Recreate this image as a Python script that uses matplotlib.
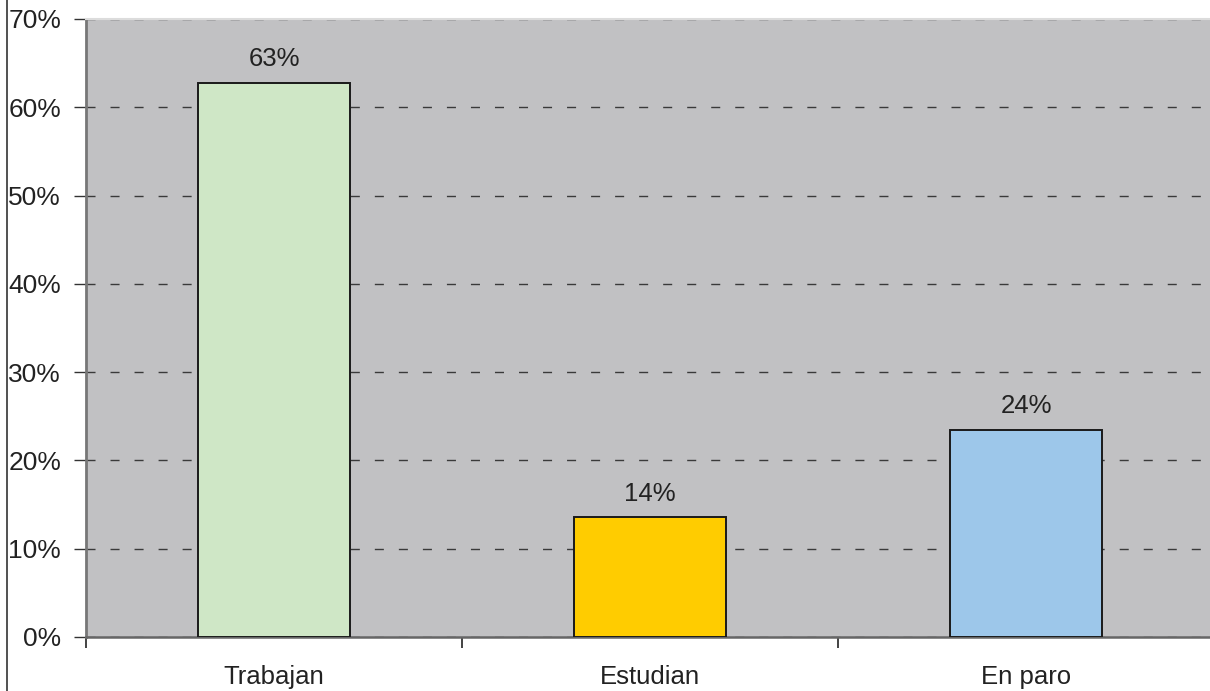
import matplotlib

matplotlib.use("Agg")
import matplotlib.pyplot as plt
from matplotlib.lines import Line2D
from matplotlib.ticker import FuncFormatter, MultipleLocator

categories = ["Trabajan", "Estudian", "En paro"]
shares = [62.8, 13.6, 23.5]
share_labels = ["63%", "14%", "24%"]
bar_colors = ["#CFE7C6", "#FFCC00", "#9DC7EA"]

plt.rcParams["font.family"] = ["Liberation Sans", "DejaVu Sans"]

fig = plt.figure(figsize=(12.1, 6.91), dpi=100)
axis = fig.add_axes([86 / 1210, 54 / 691, 1128 / 1210, 618 / 691])
axis.set_facecolor("#C1C1C3")

positions = range(len(categories))
bars = axis.bar(positions, shares, width=0.404, color=bar_colors,
                edgecolor="#1a1a1a", linewidth=1.4, zorder=3)
for bar, text in zip(bars, share_labels):
    axis.annotate(text, (bar.get_x() + bar.get_width() / 2, bar.get_height()),
                  xytext=(0, 8), textcoords="offset points",
                  ha="center", va="bottom", fontsize=18.5, color="#222222")

axis.set_xlim(-0.5, len(categories) - 0.5)
axis.set_ylim(0, 70)
axis.yaxis.set_major_locator(MultipleLocator(10))
axis.yaxis.set_major_formatter(FuncFormatter(lambda v, _: f"{v:.0f}%"))
axis.set_xticks([p + 0.5 for p in range(-1, len(categories))], minor=False)
axis.set_xticklabels([])
axis.set_xticks(list(positions), categories, minor=True)
axis.tick_params(axis="x", which="minor", length=0, pad=20, labelsize=18.5,
                 labelcolor="#222222")
axis.tick_params(axis="x", which="major", length=8, width=1.2, color="#222222")
axis.tick_params(axis="y", length=9, width=1, color="#333333", pad=9,
                 labelsize=19, labelcolor="#222222")

axis.grid(axis="y", color="#3a3a3a", linewidth=1.0, linestyle=(0, (6.5, 10.8)),
          zorder=1)
axis.set_axisbelow(True)
fig.canvas.draw()
gridlines = axis.get_ygridlines()
gridlines[0].set_visible(False)
gridlines[-1].set_visible(False)

axis.spines["right"].set_visible(False)
axis.spines["top"].set_color("#DCDCDC")
axis.spines["top"].set_linewidth(1.5)
axis.spines["left"].set_color("#777777")
axis.spines["left"].set_linewidth(2.0)
axis.spines["bottom"].set_color("#666666")
axis.spines["bottom"].set_linewidth(1.8)

fig.add_artist(Line2D([7 / 1210, 7 / 1210], [0, 1], color="#333333",
                      linewidth=1.2, transform=fig.transFigure))

fig.savefig("out.png", dpi=100)
